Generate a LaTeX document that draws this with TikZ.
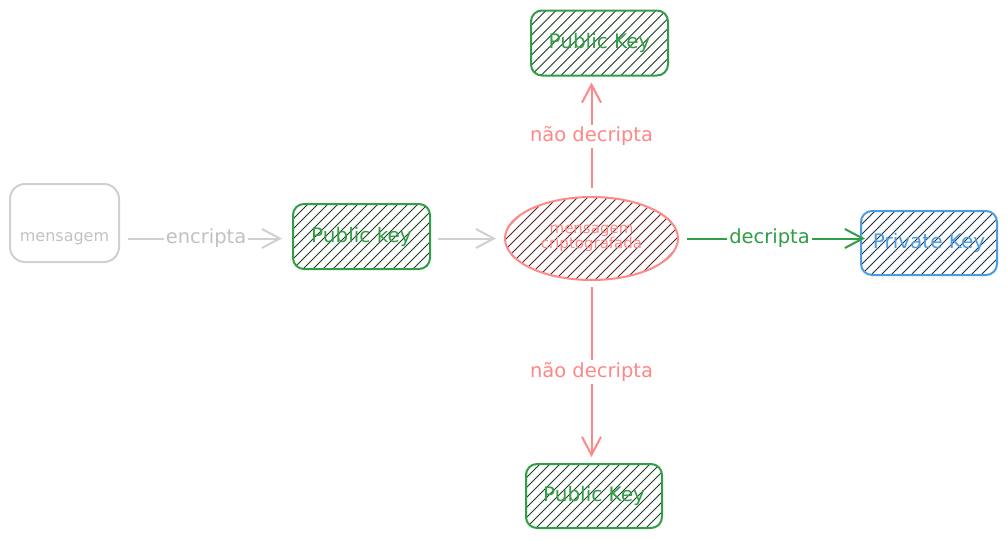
\documentclass[tikz,border=0pt]{standalone}
\usepackage{fontspec}
\setmainfont{DejaVu Sans}
\usetikzlibrary{shapes.geometric,arrows.meta}
\definecolor{keygreen}{HTML}{2F9E44}
\definecolor{hatchgreen}{HTML}{1D3D23}
\definecolor{lockred}{HTML}{FF8787}
\definecolor{hatchred}{HTML}{5C1F1F}
\definecolor{privblue}{HTML}{4A9CE0}
\definecolor{hatchblue}{HTML}{1A2F4A}
\definecolor{plaingray}{HTML}{D0D0D0}
\definecolor{plaintext}{HTML}{C2C2C2}

\begin{document}
\begin{tikzpicture}[x=1pt,y=-1pt,>={Straight Barb[length=18pt,width=19pt]}]
   \useasboundingbox (0,0) rectangle (1007,539);
   \tikzstyle{main}=[rounded corners=11pt, draw, line width=2pt, minimum width=137pt, minimum height=65pt, font=\fontsize{20}{22}\selectfont]
   \tikzstyle{hatch}=[path picture={
       \foreach \i in {-190,-180,...,190}
         \draw[line width=0.9pt, hatchcol] (path picture bounding box.south west) ++(\i,0) -- ++(200,-200);
     }]
   \tikzstyle{pubkey}=[main, hatch, draw=keygreen, text=keygreen, hatchcol/.style={hatchgreen}]
   \tikzstyle{link}=[->, line width=2pt]
   \tikzstyle{lbl}=[midway, fill=white, inner sep=2pt, font=\fontsize{19.5}{21}\selectfont]
   \node[main, draw=plaingray, rounded corners=15pt, minimum width=109pt, minimum height=78pt,
         label={[yshift=-16pt, text=plaintext, font=\fontsize{16}{18}\selectfont]center:mensagem}] (msg) at (64.5,223) {};
   \node[pubkey] (pub) at (361.5,236.5) {Public key};
   \node[ellipse, draw=lockred, line width=2pt, hatch, hatchcol/.style={hatchred}, text=lockred, minimum width=173pt, minimum height=83pt, align=center, inner sep=0pt, font=\fontsize{15}{14}\selectfont] (crypt) at (591.5,238.5) {mensagem\\criptografada};
   \node[main, hatch, draw=privblue, text=privblue, hatchcol/.style={hatchblue}, minimum width=136pt, minimum height=64pt] (priv) at (929,243) {Private Key};
   \node[pubkey] (top) at (599.5,43) {Public Key};
   \node[pubkey, minimum width=136pt, minimum height=64pt] (bottom) at (594,496) {Public Key};
   % encrypt with the public key
   \draw[link, plaingray, shorten <=8pt, shorten >=10pt] (msg.east |- crypt) -- node[lbl, text=plaintext] {encripta} (pub.west |- crypt);
   \draw[link, plaingray, shorten <=7pt, shorten >=8pt] (pub.east |- crypt) -- (crypt.west);
   % only the private key opens it
   \draw[link, keygreen, shorten <=8pt, shorten >=-5pt] (crypt.east) -- node[lbl] {decripta} (priv.west |- crypt);
   \draw[link, lockred, shorten <=8pt, shorten >=6pt] (crypt.north) -- node[lbl] {não decripta} (top.south -| crypt);
   \draw[link, lockred, shorten <=6pt, shorten >=6pt] (crypt.south) -- node[lbl] {não decripta} (bottom.north -| crypt);
\end{tikzpicture}
\end{document}
